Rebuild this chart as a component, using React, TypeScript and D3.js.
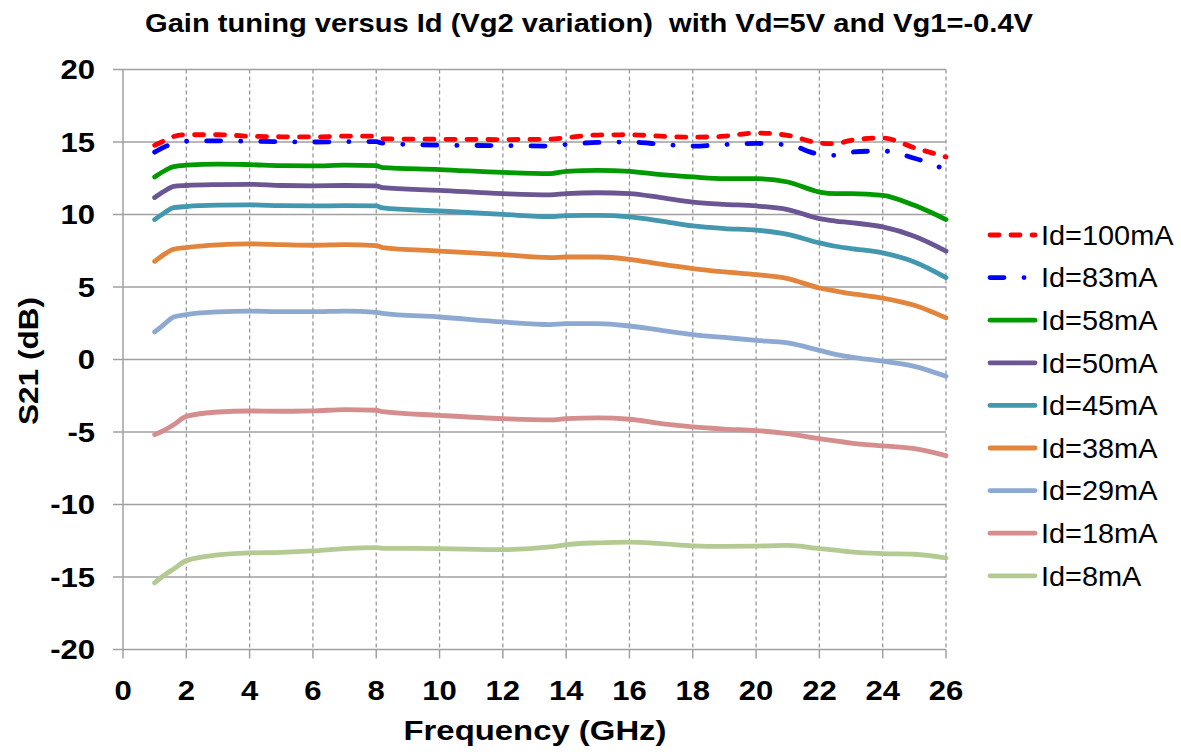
import React from "react";
import * as d3 from "d3";

const FREQ = [1, 1.3, 1.6, 2, 3, 4, 5, 6, 7, 8, 8.2, 10, 12, 13.5, 14, 15, 16, 17, 18, 19, 20, 21, 22, 22.5, 23, 24, 25, 26];

const ID100 = [14.77, 15.08, 15.38, 15.5, 15.5, 15.4, 15.36, 15.35, 15.4, 15.4, 15.22, 15.19, 15.17, 15.2, 15.3, 15.48, 15.5, 15.4, 15.33, 15.4, 15.62, 15.46, 14.93, 14.88, 15.12, 15.28, 14.6, 13.97];
const ID83 = [14.3, 14.65, 14.88, 15.05, 15.08, 15.05, 15.02, 15.0, 15.02, 15.02, 14.92, 14.78, 14.75, 14.72, 14.83, 14.97, 15.0, 14.85, 14.72, 14.83, 14.9, 14.8, 14.15, 14.08, 14.3, 14.38, 13.88, 13.1];
const ID58 = [12.59, 13.0, 13.3, 13.4, 13.48, 13.44, 13.37, 13.35, 13.4, 13.37, 13.23, 13.1, 12.9, 12.82, 12.98, 13.05, 12.98, 12.75, 12.59, 12.47, 12.47, 12.24, 11.55, 11.44, 11.44, 11.32, 10.63, 9.65];
const ID50 = [11.17, 11.6, 11.94, 12.0, 12.06, 12.08, 12.0, 11.98, 12.0, 11.98, 11.85, 11.67, 11.44, 11.35, 11.44, 11.5, 11.44, 11.16, 10.86, 10.7, 10.59, 10.34, 9.71, 9.55, 9.44, 9.14, 8.5, 7.48];
const ID45 = [9.65, 10.1, 10.47, 10.55, 10.64, 10.66, 10.61, 10.59, 10.61, 10.59, 10.45, 10.24, 10.01, 9.85, 9.92, 9.94, 9.84, 9.55, 9.21, 9.03, 8.92, 8.63, 8.04, 7.81, 7.65, 7.35, 6.73, 5.65];
const ID38 = [6.77, 7.25, 7.6, 7.72, 7.9, 7.97, 7.92, 7.88, 7.92, 7.86, 7.72, 7.48, 7.23, 7.03, 7.07, 7.07, 6.91, 6.57, 6.27, 6.04, 5.85, 5.58, 4.93, 4.73, 4.54, 4.24, 3.74, 2.87];
const ID29 = [1.9, 2.43, 2.93, 3.1, 3.28, 3.34, 3.3, 3.3, 3.34, 3.25, 3.18, 2.93, 2.59, 2.41, 2.47, 2.47, 2.31, 2.01, 1.72, 1.52, 1.32, 1.14, 0.63, 0.36, 0.17, -0.12, -0.47, -1.16];
const ID18 = [-5.18, -4.88, -4.5, -3.92, -3.62, -3.55, -3.57, -3.55, -3.45, -3.5, -3.6, -3.85, -4.08, -4.17, -4.08, -4.03, -4.12, -4.42, -4.65, -4.8, -4.9, -5.11, -5.46, -5.62, -5.76, -5.96, -6.15, -6.63];
const ID8 = [-15.41, -14.88, -14.45, -13.87, -13.48, -13.34, -13.3, -13.2, -13.04, -12.97, -13.02, -13.04, -13.11, -12.93, -12.77, -12.64, -12.59, -12.7, -12.85, -12.89, -12.87, -12.82, -13.04, -13.15, -13.27, -13.39, -13.43, -13.69];

const SERIES_NAMES = ["Id=100mA", "Id=83mA", "Id=58mA", "Id=50mA", "Id=45mA", "Id=38mA", "Id=29mA", "Id=18mA", "Id=8mA"];
const SERIES_VALUES = [ID100, ID83, ID58, ID50, ID45, ID38, ID29, ID18, ID8];
const SERIES_COLORS = ["#FF0000", "#0000FF", "#009A00", "#6B5593", "#4397AE", "#E2843B", "#8DA9D1", "#D58D8D", "#B3CB93"];
const SERIES_DASH = ["9,12", "14,20,0.1,20", null, null, null, null, null, null, null];

const X_TICKS = [0, 2, 4, 6, 8, 10, 12, 14, 16, 18, 20, 22, 24, 26];
const Y_TICKS = [-20, -15, -10, -5, 0, 5, 10, 15, 20];

const TITLE = "Gain tuning versus Id (Vg2 variation)  with Vd=5V and Vg1=-0.4V";
const X_TITLE = "Frequency (GHz)";
const Y_TITLE = "S21 (dB)";

const FONT = "'Liberation Sans', Arial, Helvetica, sans-serif";

export default function App() {
  const W = 1181;
  const H = 752;
  const left = 123;
  const right = 946;
  const top = 69.5;
  const bottom = 649.5;

  const x = d3.scaleLinear().domain([0, 26]).range([left, right]);
  const y = d3.scaleLinear().domain([-20, 20]).range([bottom, top]);

  const line = d3
    .line<number>()
    .x((_, i) => x(FREQ[i]))
    .y((d) => y(d))
    .curve(d3.curveMonotoneX);

  const gridColor = "#a0a0a0";
  const legendX0 = 990;
  const legendX1 = 1035;
  const legendY0 = 235;
  const legendStep = 42.6;

  return (
    <svg
      width={W}
      height={H}
      viewBox={`0 0 ${W} ${H}`}
      style={{ position: "absolute", left: 0, top: 0, background: "#fff", display: "block" }}
    >
      <rect x={0} y={0} width={W} height={H} fill="#fff" />
      <text
        x={589}
        y={32}
        textAnchor="middle"
        fontFamily={FONT}
        fontWeight="bold"
        fontSize={26.5}
        textLength={888}
        lengthAdjust="spacingAndGlyphs"
        fill="#000"
        style={{ whiteSpace: "pre" }}
      >
        {TITLE}
      </text>

      {/* vertical dashed gridlines */}
      {X_TICKS.filter((t) => t > 0).map((t) => (
        <line
          key={"vx" + t}
          x1={x(t)}
          x2={x(t)}
          y1={top}
          y2={bottom}
          stroke="#999"
          strokeWidth={1.3}
          strokeDasharray="4,3"
        />
      ))}
      {/* horizontal gridlines */}
      {Y_TICKS.map((t) => (
        <line
          key={"hy" + t}
          x1={left - 10}
          x2={right}
          y1={y(t)}
          y2={y(t)}
          stroke={gridColor}
          strokeWidth={1.5}
        />
      ))}
      {/* left axis */}
      <line x1={left} x2={left} y1={top} y2={bottom + 1} stroke={gridColor} strokeWidth={1.5} />
      {/* x ticks */}
      {X_TICKS.map((t) => (
        <line key={"xt" + t} x1={x(t)} x2={x(t)} y1={bottom} y2={bottom + 9} stroke={gridColor} strokeWidth={1.5} />
      ))}

      {/* y tick labels */}
      {Y_TICKS.map((t) => (
        <text
          key={"yl" + t}
          transform={`translate(95,${y(t) + 9.8}) scale(1.15,1)`}
          textAnchor="end"
          fontFamily={FONT}
          fontWeight="bold"
          fontSize={27}
          fill="#000"
        >
          {String(t)}
        </text>
      ))}
      {/* x tick labels */}
      {X_TICKS.map((t) => (
        <text
          key={"xl" + t}
          transform={`translate(${x(t)},700) scale(1.15,1)`}
          textAnchor="middle"
          fontFamily={FONT}
          fontWeight="bold"
          fontSize={27}
          fill="#000"
        >
          {String(t)}
        </text>
      ))}

      <text
        x={535}
        y={740}
        textAnchor="middle"
        fontFamily={FONT}
        fontWeight="bold"
        fontSize={28}
        textLength={263}
        lengthAdjust="spacingAndGlyphs"
        fill="#000"
      >
        {X_TITLE}
      </text>
      <text
        transform="translate(38,361) rotate(-90)"
        textAnchor="middle"
        fontFamily={FONT}
        fontWeight="bold"
        fontSize={28}
        textLength={128}
        lengthAdjust="spacingAndGlyphs"
        fill="#000"
      >
        {Y_TITLE}
      </text>

      {/* series */}
      {SERIES_VALUES.map((vals, i) => i).reverse().map((i) => (
        <path
          key={"s" + i}
          d={line(SERIES_VALUES[i]) || ""}
          fill="none"
          stroke={SERIES_COLORS[i]}
          strokeWidth={4.8}
          strokeLinecap="round"
          strokeLinejoin="round"
          strokeDasharray={SERIES_DASH[i] || undefined}
        />
      ))}

      {/* legend */}
      {SERIES_NAMES.map((name, i) => {
        const ly = legendY0 + i * legendStep;
        return (
          <g key={"lg" + i}>
            <line
              x1={legendX0}
              x2={legendX1}
              y1={ly}
              y2={ly}
              stroke={SERIES_COLORS[i]}
              strokeWidth={4.8}
              strokeLinecap="round"
              strokeDasharray={SERIES_DASH[i] || undefined}
            />
            <text
              transform={`translate(1041,${ly + 9.7}) scale(1.07,1)`}
              fontFamily={FONT}
              fontSize={27}
              fill="#000"
            >
              {name}
            </text>
          </g>
        );
      })}
    </svg>
  );
}
